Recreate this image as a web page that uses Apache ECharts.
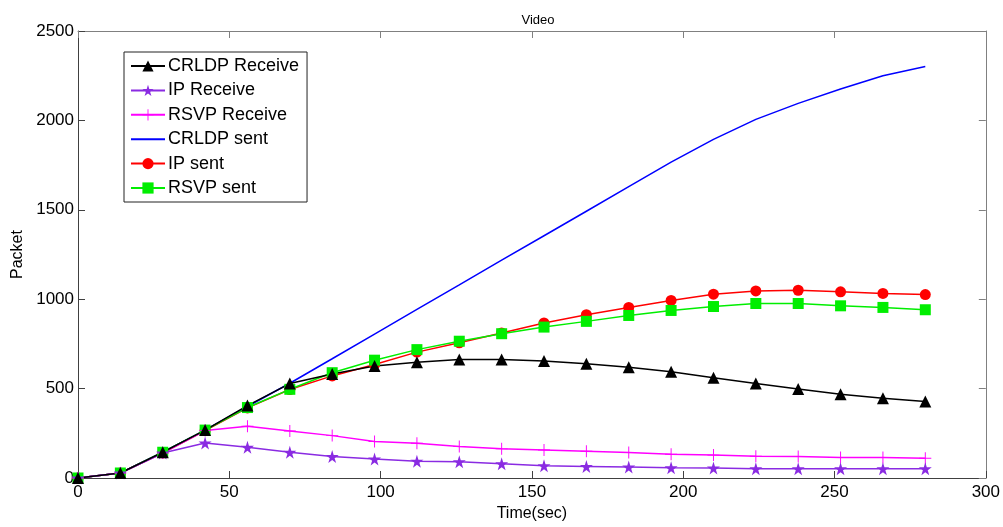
<!DOCTYPE html>
<html>
<head>
<meta charset="utf-8">
<script src="https://cdn.jsdelivr.net/npm/echarts@6/dist/echarts.min.js"></script>
<style>html,body{margin:0;padding:0;background:#fff}#c{width:1003px;height:527px}</style>
</head>
<body>
<div id="c"></div>
<script>
const time = [0,14,28,42,56,70,84,98,112,126,140,154,168,182,196,210,224,238,252,266,280];
const crldpReceive = [0,28,144,268,405,528,582,626,648,663,663,654,639,620,594,561,528,498,469,446,428];
const ipReceive = [0,28,140,196,172,144,120,106,94,91,80,69,65,61,57,56,52,52,52,52,52];
const rsvpReceive = [0,28,140,265,289,263,237,204,194,176,163,157,150,143,133,128,122,120,115,115,111];
const crldpSent = [0,28,144,268,400,530,667,805,943,1080,1218,1355,1492,1630,1767,1894,2006,2095,2176,2250,2302];
const ipSent = [0,28,140,265,392,495,571,635,704,756,811,867,913,954,993,1028,1046,1050,1041,1032,1026];
const rsvpSent = [0,28,144,268,394,496,589,659,718,765,807,844,876,909,937,959,976,976,963,954,941];
const xTicks = [0,50,100,150,200,250,300];
const yTicks = [0,500,1000,1500,2000,2500];

const pair = (ys) => time.map((t, i) => [t, ys[i]]);
const FONT = 'Liberation Sans, Arial, sans-serif';
const starPath = 'path://M50,0 L61,35 L98,35 L68,57 L79,91 L50,70 L21,91 L32,57 L2,35 L39,35 Z';
const plusPath = 'path://M46,0 H54 V46 H100 V54 H54 V100 H46 V54 H0 V46 H46 Z';

function mk(name, data, color, symbol, size) {
  return {
    name, type: 'line', data: pair(data), xAxisIndex: 0, yAxisIndex: 0,
    symbol, symbolSize: size, showSymbol: symbol !== 'none',
    lineStyle: { color, width: 1.5 },
    itemStyle: { color, borderWidth: 0 },
    emphasis: { disabled: true },
    animation: false
  };
}

const chart = echarts.init(document.getElementById('c'), null, { renderer: 'canvas' });
const axisBase = {
  type: 'value', min: 0,
  splitLine: { show: false },
};
chart.setOption({
  backgroundColor: '#fff',
  animation: false,
  title: {
    text: 'Video', left: 533, top: 9, textAlign: 'center',
    textStyle: { fontFamily: FONT, fontSize: 13, fontWeight: 'normal', color: '#000' }
  },
  grid: { left: 78, right: 15, top: 31, bottom: 46, containLabel: false },
  legend: {
    orient: 'vertical', left: 124, top: 52,
    backgroundColor: '#fff', borderColor: '#222', borderWidth: 1,
    padding: [5, 8, 5, 6],
    itemWidth: 34, itemHeight: 14, itemGap: 6.4,
    textStyle: { fontFamily: FONT, fontSize: 18, color: '#000', padding: [0, 0, 0, -2] },
    data: ['CRLDP Receive', 'IP Receive', 'RSVP Receive',
      { name: 'CRLDP sent', itemStyle: { opacity: 0 } }, 'IP sent', 'RSVP sent']
  },
  xAxis: [
    Object.assign({}, axisBase, {
      max: 300, interval: 50, position: 'bottom',
      name: 'Time(sec)', nameLocation: 'middle', nameGap: 28,
      nameTextStyle: { fontFamily: FONT, fontSize: 16, color: '#000' },
      axisLine: { onZero: false, lineStyle: { color: '#404040', width: 1 } },
      axisTick: { inside: true, length: 7, lineStyle: { color: '#404040' } },
      axisLabel: { fontFamily: FONT, fontSize: 17, color: '#000', margin: 6,
        formatter: v => xTicks.includes(v) ? String(v) : '' }
    }),
    Object.assign({}, axisBase, {
      max: 300, interval: 50, position: 'top',
      axisLine: { onZero: false, lineStyle: { color: '#808080', width: 1 } },
      axisTick: { inside: true, length: 7, lineStyle: { color: '#808080' } },
      axisLabel: { show: false }
    })
  ],
  yAxis: [
    Object.assign({}, axisBase, {
      max: 2500, interval: 500, position: 'left',
      name: 'Packet', nameLocation: 'middle', nameGap: 52,
      nameTextStyle: { fontFamily: FONT, fontSize: 16, color: '#000' },
      axisLine: { show: true, onZero: false, lineStyle: { color: '#404040', width: 1 } },
      axisTick: { show: true, inside: true, length: 7, lineStyle: { color: '#404040' } },
      axisLabel: { fontFamily: FONT, fontSize: 17, color: '#000', margin: 4,
        formatter: v => yTicks.includes(v) ? String(v) : '' }
    }),
    Object.assign({}, axisBase, {
      max: 2500, interval: 500, position: 'right',
      axisLine: { show: true, onZero: false, lineStyle: { color: '#808080', width: 1 } },
      axisTick: { show: true, inside: true, length: 7, lineStyle: { color: '#808080' } },
      axisLabel: { show: false }
    })
  ],
  series: [
    mk('CRLDP sent', crldpSent, '#0000ff', 'none', 0),
    mk('IP sent', ipSent, '#ff0000', 'circle', 11),
    mk('RSVP sent', rsvpSent, '#00ee00', 'rect', 11),
    mk('RSVP Receive', rsvpReceive, '#ff00ff', plusPath, 12),
    mk('IP Receive', ipReceive, '#8a2be2', starPath, 13),
    mk('CRLDP Receive', crldpReceive, '#000000', 'triangle', 12)
  ]
});
</script>
</body>
</html>
